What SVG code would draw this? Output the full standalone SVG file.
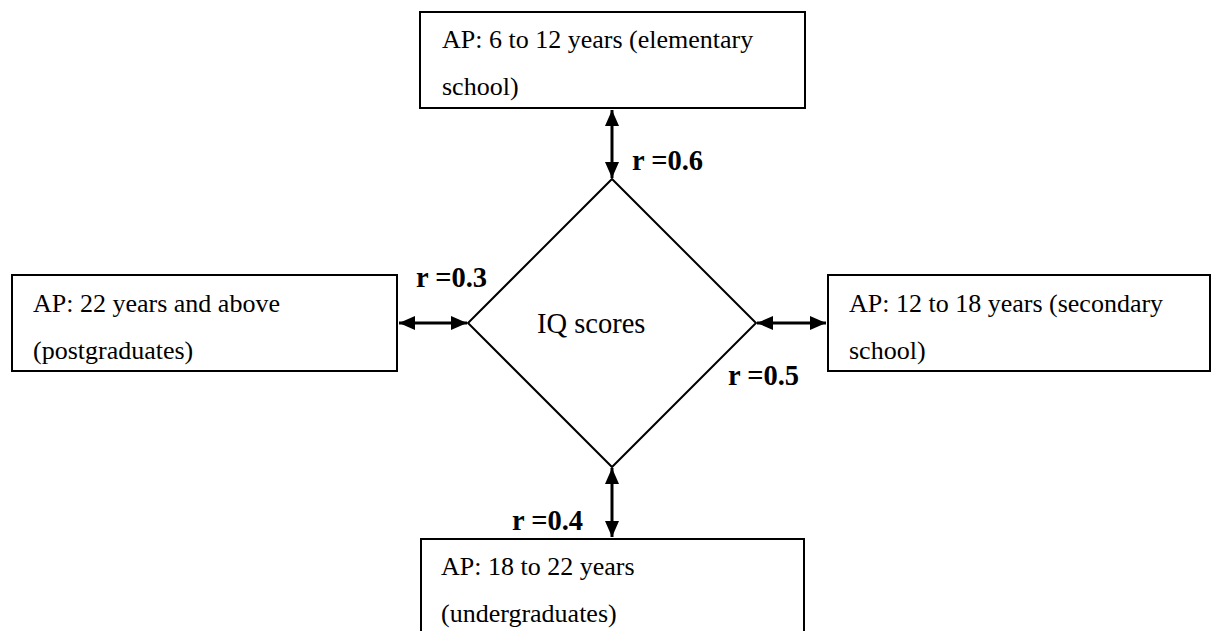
<svg xmlns="http://www.w3.org/2000/svg" width="1212" height="631" viewBox="0 0 1212 631">
  <style>
    .box { fill: #ffffff; stroke: #000000; stroke-width: 2; }
    .label { font-family: "Liberation Serif", "Times New Roman", serif; font-size: 26px; fill: #000000; }
    .center { font-size: 28.5px; }
    .r { font-family: "Liberation Serif", "Times New Roman", serif; font-size: 28.5px; font-weight: bold; fill: #000000; }
    .link { stroke: #000000; stroke-width: 3; fill: none; marker-start: url(#head); marker-end: url(#head); }
  </style>
  <defs>
    <marker id="head" viewBox="0 0 16 14" refX="16" refY="7" markerWidth="16" markerHeight="14" markerUnits="userSpaceOnUse" orient="auto-start-reverse">
      <path d="M0,0 L16,7 L0,14 Z" fill="#000000"/>
    </marker>
  </defs>
  <rect width="1212" height="631" fill="#ffffff"/>

  <!-- two-way correlation links between IQ scores and each age band -->
  <g id="connectors">
    <line class="link" x1="612" y1="110" x2="612" y2="178"/>
    <line class="link" x1="399" y1="323" x2="467" y2="323"/>
    <line class="link" x1="757" y1="323" x2="826" y2="323"/>
    <line class="link" x1="612" y1="468" x2="612" y2="537"/>
    <text class="r" x="632" y="170">r =0.6</text>
    <text class="r" x="416" y="287">r =0.3</text>
    <text class="r" x="728" y="385">r =0.5</text>
    <text class="r" x="512" y="530">r =0.4</text>
  </g>

  <g id="iq">
    <polygon class="box" points="612,179 756,323 612,467 468,323"/>
    <text class="label center" x="537" y="333">IQ scores</text>
  </g>

  <g id="ap-elementary">
    <rect class="box" x="420" y="12" width="385" height="96"/>
    <text class="label" x="442" y="48">AP: 6 to 12 years (elementary</text>
    <text class="label" x="442" y="95">school)</text>
  </g>

  <g id="ap-postgraduate">
    <rect class="box" x="12" y="275" width="385" height="96"/>
    <text class="label" x="33" y="312">AP: 22 years and above</text>
    <text class="label" x="33" y="359">(postgraduates)</text>
  </g>

  <g id="ap-secondary">
    <rect class="box" x="828" y="275" width="382" height="96"/>
    <text class="label" x="849" y="312">AP: 12 to 18 years (secondary</text>
    <text class="label" x="849" y="359">school)</text>
  </g>

  <g id="ap-undergraduate">
    <rect class="box" x="421" y="539" width="383" height="110"/>
    <text class="label" x="441" y="575">AP: 18 to 22 years</text>
    <text class="label" x="441" y="622">(undergraduates)</text>
  </g>
</svg>
